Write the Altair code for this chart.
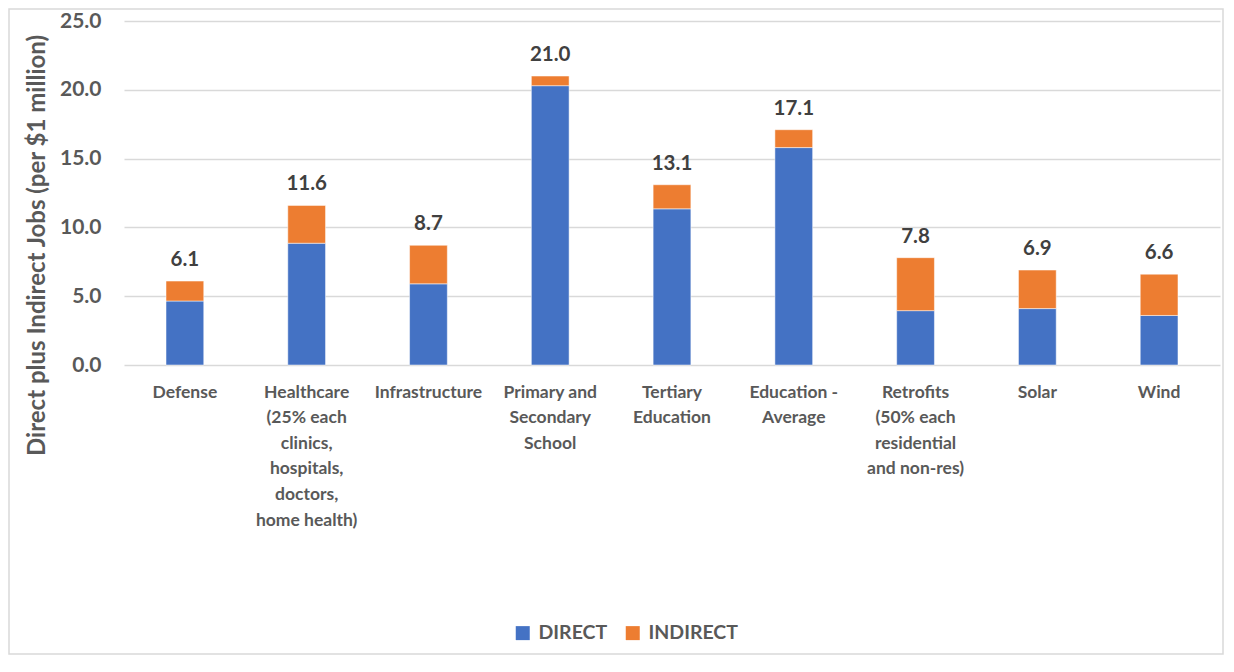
import altair as alt
import pandas as pd

categories = [
    "Defense",
    "Healthcare\n(25% each\nclinics,\nhospitals,\ndoctors,\nhome health)",
    "Infrastructure",
    "Primary and\nSecondary\nSchool",
    "Tertiary\nEducation",
    "Education -\nAverage",
    "Retrofits\n(50% each\nresidential\nand non-res)",
    "Solar",
    "Wind",
]
direct = [4.65, 8.85, 5.9, 20.3, 11.35, 15.8, 3.95, 4.1, 3.6]
indirect = [1.45, 2.75, 2.8, 0.7, 1.75, 1.3, 3.85, 2.8, 3.0]
series = ["DIRECT", "INDIRECT"]
colors = ["#4472C4", "#ED7D31"]
y_ticks = [0, 5, 10, 15, 20, 25]

rows = []
for c, d, i in zip(categories, direct, indirect):
    rows.append({"category": c, "series": "DIRECT", "value": d, "order": 0})
    rows.append({"category": c, "series": "INDIRECT", "value": i, "order": 1})
df = pd.DataFrame(rows)

FONT = "Lato"
W, H = 1096, 344

x_enc = alt.X(
    "category:N",
    sort=categories,
    scale=alt.Scale(paddingInner=0.69, paddingOuter=0.345),
    axis=alt.Axis(
        title=None,
        labelAngle=0,
        labelExpr="split(datum.label, '\\n')",
        labelFont=FONT,
        labelFontWeight="bold",
        labelFontSize=17.5,
        labelColor="#595959",
        labelLineHeight=25.6,
        labelPadding=18,
        labelLimit=300,
        ticks=False,
        domain=False,
    ),
)

bars = alt.Chart(df).mark_bar(stroke="white", strokeWidth=0.5).encode(
    x=x_enc,
    y=alt.Y(
        "value:Q",
        stack="zero",
        scale=alt.Scale(domain=[0, 25], nice=False),
        axis=alt.Axis(
            title="Direct plus Indirect Jobs (per $1 million)",
            values=y_ticks,
            format=".1f",
            labelFont=FONT,
            labelFontWeight="bold",
            labelFontSize=21,
            labelColor="#595959",
            labelPadding=23,
            titleFont=FONT,
            titleFontWeight="bold",
            titleFontSize=24,
            titleColor="#595959",
            titleAngle=-90,
            titleX=-87,
            titleY=224,
            titleAlign="center",
            titleBaseline="middle",
            ticks=False,
            domain=False,
            grid=True,
            gridColor="#d9d9d9",
            gridWidth=1.5,
        ),
    ),
    color=alt.Color(
        "series:N",
        scale=alt.Scale(domain=series, range=colors),
        legend=alt.Legend(
            title=None,
            orient="none",
            legendX=389,
            legendY=602,
            direction="horizontal",
            symbolType="square",
            symbolSize=196,
            symbolStrokeWidth=0,
            labelFont=FONT,
            labelFontWeight="bold",
            labelFontSize=19.5,
            labelColor="#595959",
            labelOffset=6,
            columnPadding=15,
        ),
    ),
    order=alt.Order("order:Q"),
)

labels = alt.Chart(df).transform_aggregate(
    total="sum(value)", groupby=["category"]
).mark_text(
    font=FONT, fontWeight="bold", fontSize=20.5, color="#404040", dy=-21, baseline="middle"
).encode(
    x=alt.X("category:N", sort=categories),
    y=alt.Y("total:Q"),
    text=alt.Text("total:Q", format=".1f"),
)

border = alt.Chart(pd.DataFrame({"a": [0]})).mark_rect(
    fill=None, stroke="#d9d9d9", strokeWidth=1.5
).encode(
    x=alt.value(-115), x2=alt.value(W + 3), y=alt.value(-12), y2=alt.value(633)
)

chart = alt.layer(border, bars, labels).properties(
    width=W,
    height=H,
    autosize=alt.AutoSizeParams(type="none"),
    padding={"left": 116, "top": 13, "right": 4, "bottom": 290},
).configure_view(stroke=None)

chart.save("out.html", embed_options={"renderer": "svg", "actions": False})
